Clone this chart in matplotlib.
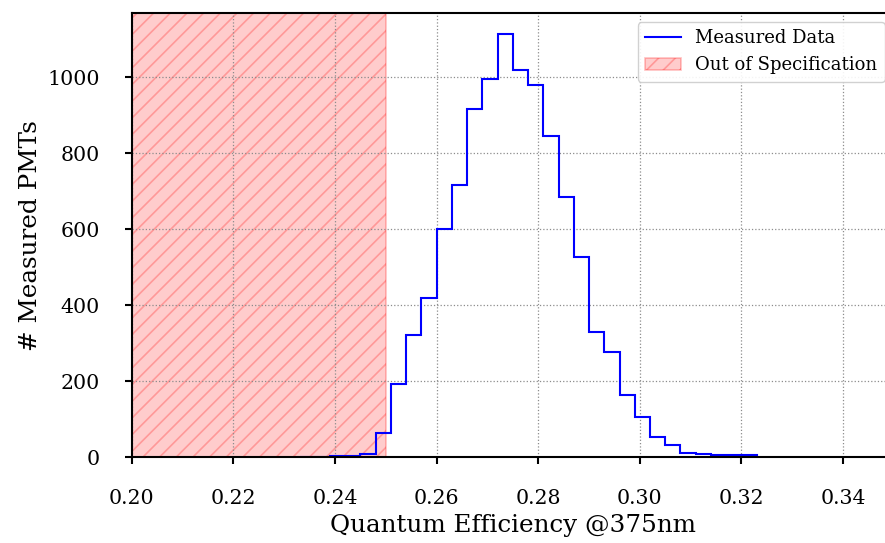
import numpy as np
import matplotlib
matplotlib.use('Agg')
import matplotlib.pyplot as plt

plt.rcParams.update({
    'font.family': 'DejaVu Serif',
    'hatch.linewidth': 1.2,
})

# Histogram of measured QE values (bin width 0.003, starting at 0.233)
bin_start = 0.233
bin_width = 0.003
counts = [1, 1, 2, 4, 8, 64, 194, 322, 420, 600, 717, 917, 995, 1114,
          1020, 980, 845, 684, 528, 329, 276, 163, 106, 52, 32, 11, 9,
          7, 6, 5]
spec_limit = 0.25
xticks = [0.20, 0.22, 0.24, 0.26, 0.28, 0.30, 0.32, 0.34]
yticks = [0, 200, 400, 600, 800, 1000]

edges = bin_start + bin_width * np.arange(len(counts) + 1)

fig = plt.figure(figsize=(8.85, 5.43), dpi=100)
ax = fig.add_axes([0.149, 0.158, 0.861, 0.818])

span = ax.axvspan(0.19, spec_limit, facecolor=(1, 0, 0, 0.2),
                  edgecolor=(1, 0, 0, 0.25), hatch='//', linewidth=1.2,
                  label='Out of Specification', zorder=1)
line = ax.stairs(counts, edges, color='blue', linewidth=1.5,
                 label='Measured Data', zorder=2)

ax.set_xlim(0.2, 0.35)
ax.set_ylim(0, max(counts) * 1.05)
ax.set_xticks(xticks)
ax.set_xticklabels([f'{t:.2f}' for t in xticks])
ax.set_yticks(yticks)
ax.grid(True, linestyle=':', color='#8c8c8c', linewidth=0.9)
for s in ax.spines.values():
    s.set_linewidth(1.5)
ax.tick_params(width=1.5, length=5, labelsize=14.8, pad=18)

ax.set_xlabel('Quantum Efficiency @375nm', fontsize=17.7)
ax.set_ylabel('# Measured PMTs', fontsize=17.7)

ax.legend([line, span], ['Measured Data', 'Out of Specification'],
          loc='upper right', fontsize=13, framealpha=0.9)

fig.savefig('out.png', dpi=100)
